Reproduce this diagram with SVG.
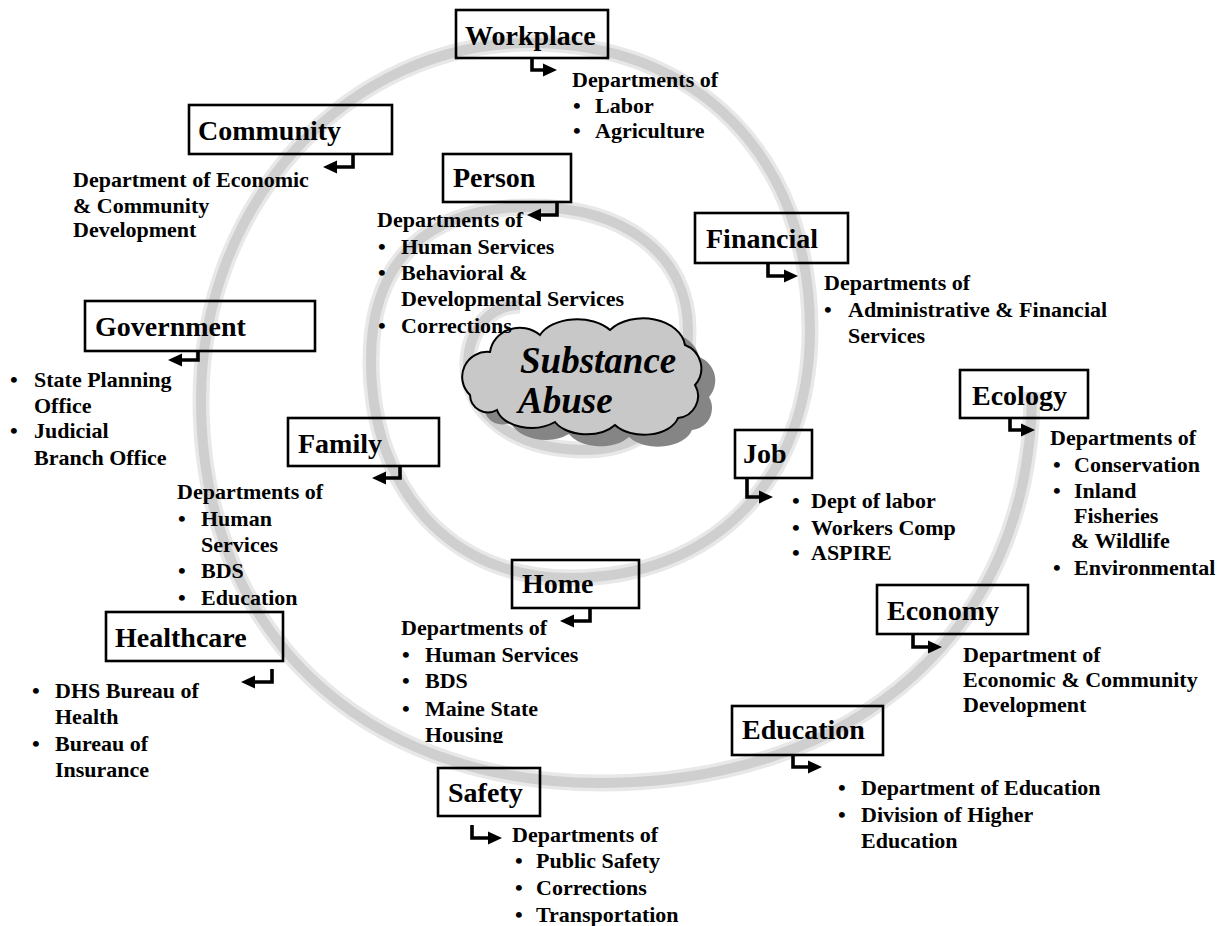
<svg xmlns="http://www.w3.org/2000/svg" width="1226" height="926" viewBox="0 0 1226 926">
<defs>
<style>
.t{font-family:"Liberation Serif","Times New Roman",serif;font-weight:bold;font-size:22px;fill:#000}
.h{font-family:"Liberation Serif","Times New Roman",serif;font-weight:bold;font-size:28px;fill:#000}
.box{fill:none;stroke:#000;stroke-width:2.6}
.arr{fill:none;stroke:#000;stroke-width:3.6}
.band1{fill:none;stroke:#e8e8e8;stroke-width:17;stroke-linecap:butt}
.band2{fill:none;stroke:#cfcfcf;stroke-width:10;stroke-linecap:butt}
.cloudtxt{font-family:"Liberation Serif","Times New Roman",serif;font-weight:bold;font-style:italic;font-size:37px;fill:#000}
</style>
<marker id="ah" markerUnits="userSpaceOnUse" markerWidth="15" markerHeight="14" refX="1" refY="7" orient="auto">
<path d="M0,0.5 L14,7 L0,13.5 z" fill="#000"/>
</marker>
<path id="sp" d="M1032,392 C1032,628 859,783 600,783 C361,783 201,630 201,400 C201,203 348,43 530,43 C698,43 810,158 810,330 C810,479 714,578 570,578 C451,578 371,491 371,360 C371,261 427,207 530,207 C625,207 688,255 688,330 C688,406 650,450 585,450 C517,450 468,416 468,365 C468,330 490,305 520,305"/>
<clipPath id="homeclip"><rect x="380" y="610" width="260" height="133"/></clipPath>
</defs>
<rect width="1226" height="926" fill="#fff"/>
<g id="spiral">
<use href="#sp" class="band1"/>
<use href="#sp" class="band2"/>
</g>
<g id="core">
<path transform="translate(14,12)" fill="#858585" d="M470,395 A25,25 0 0 1 490,352 A30,28 0 0 1 540,335 A40,25 0 0 1 610,330 A42,30 0 0 1 685,345 A25,25 0 0 1 695,385 A22,22 0 0 1 678,418 A35,22 0 0 1 615,425 A35,22 0 0 1 555,422 A35,22 0 0 1 497,410 A18,18 0 0 1 470,395 Z"/>
<path fill="#c8c8c8" stroke="#000" stroke-width="2" d="M470,395 A25,25 0 0 1 490,352 A30,28 0 0 1 540,335 A40,25 0 0 1 610,330 A42,30 0 0 1 685,345 A25,25 0 0 1 695,385 A22,22 0 0 1 678,418 A35,22 0 0 1 615,425 A35,22 0 0 1 555,422 A35,22 0 0 1 497,410 A18,18 0 0 1 470,395 Z"/>
<text class="cloudtxt" x="520" y="373">Substance</text>
<text class="cloudtxt" x="518" y="413">Abuse</text>
</g>
<g id="connectors">
<path class="arr" d="M532,58 V70 H544" marker-end="url(#ah)"/>
<path class="arr" d="M353,154 V167 H336" marker-end="url(#ah)"/>
<path class="arr" d="M557,202 V215 H540" marker-end="url(#ah)"/>
<path class="arr" d="M768,263 V276 H785" marker-end="url(#ah)"/>
<path class="arr" d="M198,351 V360 H181" marker-end="url(#ah)"/>
<path class="arr" d="M400,466 V478 H385" marker-end="url(#ah)"/>
<path class="arr" d="M747,478 V497 H760" marker-end="url(#ah)"/>
<path class="arr" d="M1010,418 V430 H1022" marker-end="url(#ah)"/>
<path class="arr" d="M913,634 V647 H929" marker-end="url(#ah)"/>
<path class="arr" d="M793,755 V767 H809" marker-end="url(#ah)"/>
<path class="arr" d="M272,669 V682 H254" marker-end="url(#ah)"/>
<path class="arr" d="M590,608 V621 H573" marker-end="url(#ah)"/>
<path class="arr" d="M472,825 V838 H489" marker-end="url(#ah)"/>
</g>
<g id="workplace">
<rect class="box" x="456" y="10" width="152" height="48"/>
<text class="h" x="465" y="45">Workplace</text>
<text class="t" x="572" y="87">Departments of</text>
<text class="t" x="573" y="113">•</text><text class="t" x="595" y="113">Labor</text>
<text class="t" x="573" y="138">•</text><text class="t" x="595" y="138">Agriculture</text>
</g>
<g id="community">
<rect class="box" x="189" y="105" width="203" height="49"/>
<text class="h" x="198" y="140">Community</text>
<text class="t" x="73" y="187">Department of Economic</text>
<text class="t" x="73" y="213">&amp; Community</text>
<text class="t" x="73" y="237">Development</text>
</g>
<g id="person">
<rect class="box" x="443" y="154" width="128" height="48"/>
<text class="h" x="453" y="187">Person</text>
<text class="t" x="377" y="227">Departments of</text>
<text class="t" x="378" y="254">•</text><text class="t" x="401" y="254">Human Services</text>
<text class="t" x="378" y="280">•</text><text class="t" x="401" y="280">Behavioral &amp;</text>
<text class="t" x="401" y="306">Developmental Services</text>
<text class="t" x="378" y="333">•</text><text class="t" x="401" y="333">Corrections</text>
</g>
<g id="financial">
<rect class="box" x="695" y="213" width="153" height="50"/>
<text class="h" x="706" y="248">Financial</text>
<text class="t" x="824" y="290">Departments of</text>
<text class="t" x="824" y="317">•</text><text class="t" x="848" y="317">Administrative &amp; Financial</text>
<text class="t" x="848" y="343">Services</text>
</g>
<g id="government">
<rect class="box" x="85" y="301" width="230" height="50"/>
<text class="h" x="95" y="336">Government</text>
<text class="t" x="10" y="387">•</text><text class="t" x="34" y="387">State Planning</text>
<text class="t" x="34" y="413">Office</text>
<text class="t" x="10" y="438">•</text><text class="t" x="34" y="438">Judicial</text>
<text class="t" x="34" y="465">Branch Office</text>
</g>
<g id="family">
<rect class="box" x="288" y="418" width="151" height="48"/>
<text class="h" x="298" y="453">Family</text>
<text class="t" x="177" y="499">Departments of</text>
<text class="t" x="178" y="526">•</text><text class="t" x="201" y="526">Human</text>
<text class="t" x="201" y="552">Services</text>
<text class="t" x="178" y="578">•</text><text class="t" x="201" y="578">BDS</text>
<text class="t" x="178" y="605">•</text><text class="t" x="201" y="605">Education</text>
</g>
<g id="job">
<rect class="box" x="735" y="430" width="77" height="48"/>
<text class="h" x="743" y="463">Job</text>
<text class="t" x="792" y="508">•</text><text class="t" x="811" y="508">Dept of labor</text>
<text class="t" x="792" y="535">•</text><text class="t" x="811" y="535">Workers Comp</text>
<text class="t" x="792" y="560">•</text><text class="t" x="811" y="560">ASPIRE</text>
</g>
<g id="ecology">
<rect class="box" x="960" y="370" width="128" height="48"/>
<text class="h" x="972" y="405">Ecology</text>
<text class="t" x="1050" y="445">Departments of</text>
<text class="t" x="1053" y="472">•</text><text class="t" x="1074" y="472">Conservation</text>
<text class="t" x="1053" y="498">•</text><text class="t" x="1074" y="498">Inland</text>
<text class="t" x="1074" y="523">Fisheries</text>
<text class="t" x="1071" y="548">&amp; Wildlife</text>
<text class="t" x="1053" y="575">•</text><text class="t" x="1074" y="575">Environmental</text>
</g>
<g id="economy">
<rect class="box" x="877" y="585" width="151" height="49"/>
<text class="h" x="887" y="620">Economy</text>
<text class="t" x="963" y="662">Department of</text>
<text class="t" x="963" y="687">Economic &amp; Community</text>
<text class="t" x="963" y="712">Development</text>
</g>
<g id="education">
<rect class="box" x="732" y="706" width="151" height="49"/>
<text class="h" x="742" y="739">Education</text>
<text class="t" x="838" y="795">•</text><text class="t" x="861" y="795">Department of Education</text>
<text class="t" x="838" y="822">•</text><text class="t" x="861" y="822">Division of Higher</text>
<text class="t" x="861" y="848">Education</text>
</g>
<g id="healthcare">
<rect class="box" x="106" y="612" width="177" height="49"/>
<text class="h" x="115" y="647">Healthcare</text>
<text class="t" x="32" y="698">•</text><text class="t" x="55" y="698">DHS Bureau of</text>
<text class="t" x="55" y="724">Health</text>
<text class="t" x="32" y="751">•</text><text class="t" x="55" y="751">Bureau of</text>
<text class="t" x="55" y="777">Insurance</text>
</g>
<g id="home">
<rect class="box" x="512" y="560" width="127" height="48"/>
<text class="h" x="522" y="593">Home</text>
<g clip-path="url(#homeclip)">
<text class="t" x="401" y="635">Departments of</text>
<text class="t" x="402" y="662">•</text><text class="t" x="425" y="662">Human Services</text>
<text class="t" x="402" y="688">•</text><text class="t" x="425" y="688">BDS</text>
<text class="t" x="402" y="716">•</text><text class="t" x="425" y="716">Maine State</text>
<text class="t" x="425" y="742">Housing</text>
</g>
</g>
<g id="safety">
<rect class="box" x="438" y="768" width="102" height="48"/>
<text class="h" x="448" y="802">Safety</text>
<text class="t" x="512" y="842">Departments of</text>
<text class="t" x="515" y="868">•</text><text class="t" x="536" y="868">Public Safety</text>
<text class="t" x="515" y="895">•</text><text class="t" x="536" y="895">Corrections</text>
<text class="t" x="515" y="922">•</text><text class="t" x="536" y="922">Transportation</text>
</g>
</svg>
